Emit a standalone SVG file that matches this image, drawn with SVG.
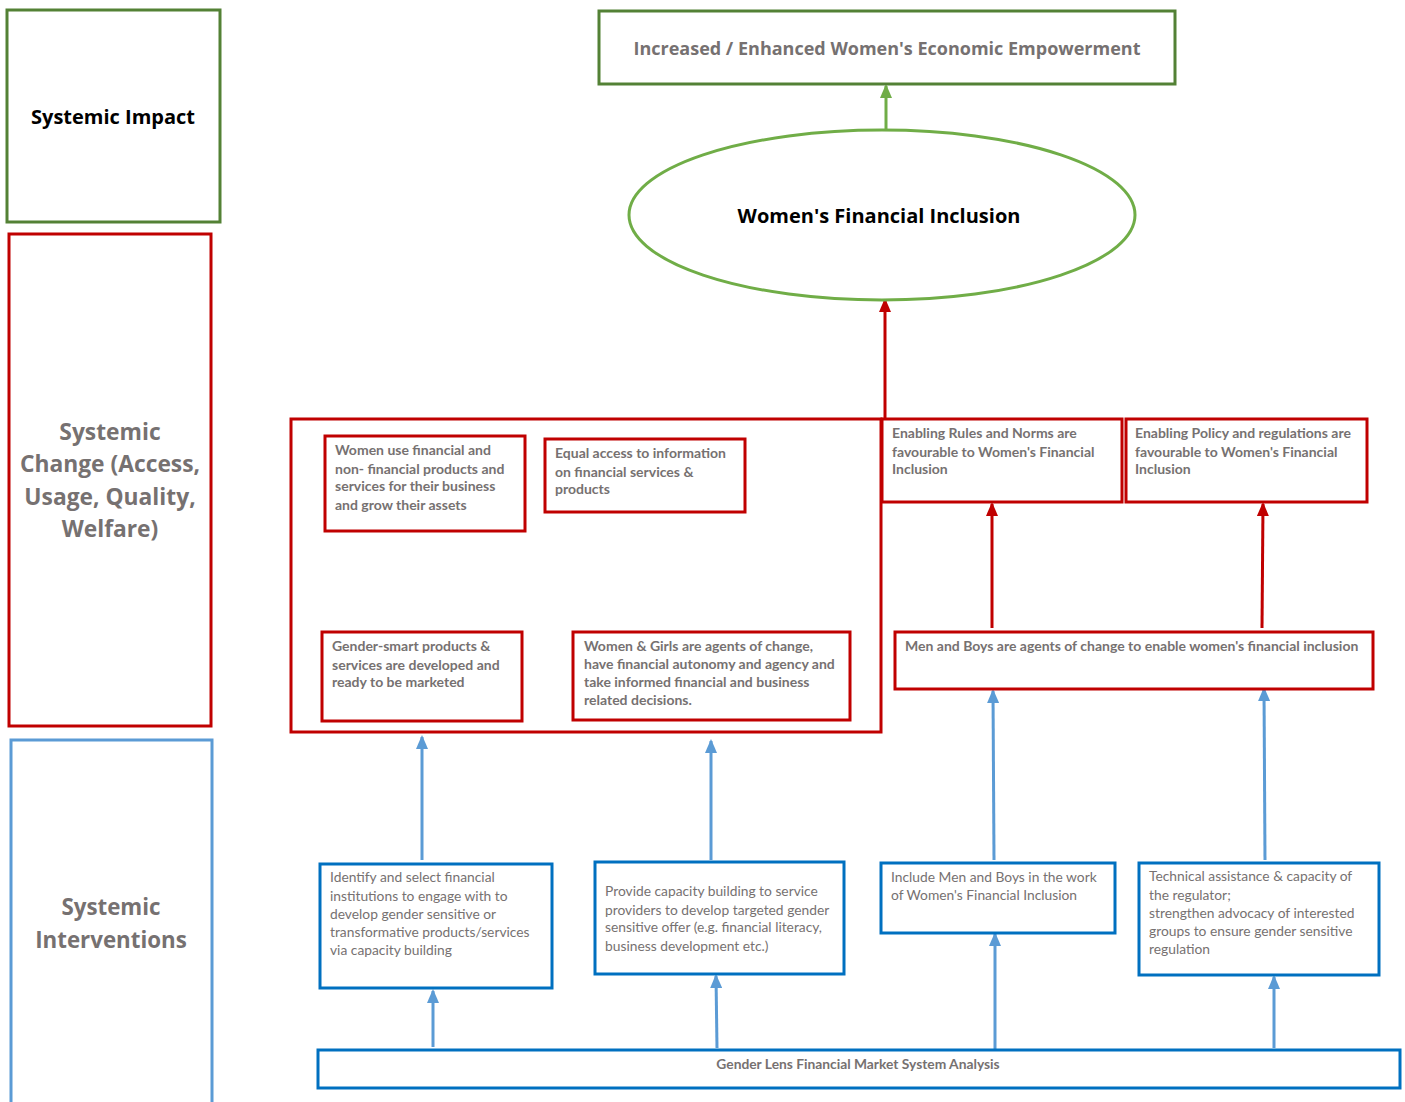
<svg xmlns="http://www.w3.org/2000/svg" width="1405" height="1102" viewBox="0 0 1405 1102">
<style>
.g{fill:#fff;stroke:#538135;stroke-width:3}
.r{fill:#fff;stroke:#C00000;stroke-width:3}
.b{fill:#fff;stroke:#0070C0;stroke-width:3}
.lb{fill:#fff;stroke:#5B9BD5;stroke-width:3}
.t{font-family:Lato,"Liberation Sans",sans-serif;fill:#767171}
.tb{font-weight:bold;font-size:14px}
.tn{font-size:13.8px}
.big{font-family:"Open Sans","Liberation Sans",sans-serif;font-weight:bold}
.ar{stroke:#C00000;stroke-width:3;fill:none}
.ab{stroke:#5B9BD5;stroke-width:3;fill:none}
.ag{stroke:#70AD47;stroke-width:3;fill:none}
</style>
<defs>
<marker id="mr" markerUnits="userSpaceOnUse" markerWidth="14" markerHeight="12" refX="12" refY="6" orient="auto" viewBox="0 0 14 12"><path d="M0,0 L14,6 L0,12 Z" fill="#C00000"/></marker>
<marker id="mb" markerUnits="userSpaceOnUse" markerWidth="14" markerHeight="12" refX="12" refY="6" orient="auto" viewBox="0 0 14 12"><path d="M0,0 L14,6 L0,12 Z" fill="#5B9BD5"/></marker>
<marker id="mg" markerUnits="userSpaceOnUse" markerWidth="14" markerHeight="12" refX="12" refY="6" orient="auto" viewBox="0 0 14 12"><path d="M0,0 L14,6 L0,12 Z" fill="#70AD47"/></marker>
</defs>

<g id="lane-impact">
<rect class="g" x="7" y="10" width="213" height="212"/>
<text class="big" x="113" y="124" font-size="20" text-anchor="middle" fill="#000">Systemic Impact</text>
</g>
<g id="lane-change">
<rect class="r" x="9" y="234" width="202" height="492"/>
<text class="big" font-size="22.8" text-anchor="middle" fill="#767171"><tspan x="110" y="440">Systemic</tspan><tspan x="110" y="472">Change (Access,</tspan><tspan x="110" y="505">Usage, Quality,</tspan><tspan x="110" y="537">Welfare)</tspan></text>
</g>
<g id="lane-interventions">
<rect class="lb" x="11" y="740" width="201" height="370"/>
<text class="big" font-size="22.3" text-anchor="middle" fill="#767171"><tspan x="111" y="915">Systemic</tspan><tspan x="111" y="948">Interventions</tspan></text>
</g>

<g id="connectors">
<line class="ag" x1="886" y1="130" x2="886" y2="86" marker-end="url(#mg)"/>
<line class="ar" x1="885" y1="418" x2="885" y2="300" marker-end="url(#mr)"/>
<line class="ar" x1="422" y1="624" x2="422" y2="533" marker-end="url(#mr)"/>
<line class="ar" x1="595" y1="630" x2="598" y2="518" marker-end="url(#mr)"/>
<line class="ar" x1="992" y1="628" x2="992" y2="504" marker-end="url(#mr)"/>
<line class="ar" x1="1262" y1="628" x2="1263" y2="504" marker-end="url(#mr)"/>
<line class="ab" x1="422" y1="860" x2="422" y2="737" marker-end="url(#mb)"/>
<line class="ab" x1="711" y1="860" x2="711" y2="741" marker-end="url(#mb)"/>
<line class="ab" x1="994" y1="860" x2="993" y2="691" marker-end="url(#mb)"/>
<line class="ab" x1="1265" y1="860" x2="1264" y2="689" marker-end="url(#mb)"/>
<line class="ab" x1="433" y1="1047" x2="433" y2="991" marker-end="url(#mb)"/>
<line class="ab" x1="717" y1="1048" x2="716" y2="976" marker-end="url(#mb)"/>
<line class="ab" x1="995" y1="1049" x2="995" y2="934" marker-end="url(#mb)"/>
<line class="ab" x1="1274" y1="1048" x2="1274" y2="977" marker-end="url(#mb)"/>
</g>

<g id="n-empowerment">
<rect class="g" x="599" y="11" width="576" height="73"/>
<text class="big" x="887" y="55" font-size="18" text-anchor="middle" fill="#767171">Increased / Enhanced Women's Economic Empowerment</text>
</g>
<g id="n-inclusion">
<ellipse cx="882" cy="215" rx="253" ry="85" fill="#fff" stroke="#70AD47" stroke-width="3"/>
<text class="big" x="879" y="223" font-size="20" text-anchor="middle" fill="#000">Women's Financial Inclusion</text>
</g>

<g id="n-container">
<rect class="r" x="291" y="419" width="590" height="313"/>
</g>
<g id="n-use">
<rect class="r" x="325" y="436" width="200" height="95"/>
<text class="t tb"><tspan x="335" y="455">Women use financial and</tspan><tspan x="335" y="474">non- financial products and</tspan><tspan x="335" y="491">services for their business</tspan><tspan x="335" y="510">and grow their assets</tspan></text>
</g>
<g id="n-access">
<rect class="r" x="545" y="439" width="200" height="73"/>
<text class="t tb"><tspan x="555" y="458">Equal access  to information</tspan><tspan x="555" y="477">on financial services &amp;</tspan><tspan x="555" y="494">products</tspan></text>
</g>
<g id="n-gender-smart">
<rect class="r" x="322" y="632" width="200" height="89"/>
<text class="t tb"><tspan x="332" y="651">Gender-smart products &amp;</tspan><tspan x="332" y="670">services are developed and</tspan><tspan x="332" y="687">ready to be marketed</tspan></text>
</g>
<g id="n-women-girls">
<rect class="r" x="573" y="632" width="277" height="88"/>
<text class="t tb"><tspan x="584" y="651">Women &amp; Girls are agents of change,</tspan><tspan x="584" y="669">have financial autonomy and agency and</tspan><tspan x="584" y="687">take informed financial and business</tspan><tspan x="584" y="705">related decisions.</tspan></text>
</g>
<g id="n-rules">
<rect class="r" x="882" y="419" width="240" height="83"/>
<text class="t tb"><tspan x="892" y="438">Enabling Rules and Norms are</tspan><tspan x="892" y="457">favourable to Women's Financial</tspan><tspan x="892" y="474">Inclusion</tspan></text>
</g>
<g id="n-policy">
<rect class="r" x="1126" y="419" width="241" height="83"/>
<text class="t tb"><tspan x="1135" y="438">Enabling Policy and regulations are</tspan><tspan x="1135" y="457">favourable to Women's Financial</tspan><tspan x="1135" y="474">Inclusion</tspan></text>
</g>
<g id="n-men-boys">
<rect class="r" x="895" y="632" width="478" height="57"/>
<text class="t tb" x="905" y="651">Men and Boys are agents of change to enable women's financial inclusion</text>
</g>

<g id="n-identify">
<rect class="b" x="320" y="864" width="232" height="124"/>
<text class="t tn"><tspan x="330" y="882">Identify and select financial</tspan><tspan x="330" y="901">institutions to engage with to</tspan><tspan x="330" y="919">develop gender sensitive or</tspan><tspan x="330" y="937">transformative products/services</tspan><tspan x="330" y="955">via capacity building</tspan></text>
</g>
<g id="n-capacity">
<rect class="b" x="595" y="862" width="249" height="112"/>
<text class="t tn"><tspan x="605" y="896">Provide capacity building to service</tspan><tspan x="605" y="915">providers to develop targeted gender</tspan><tspan x="605" y="932">sensitive offer (e.g. financial literacy,</tspan><tspan x="605" y="951">business development etc.)</tspan></text>
</g>
<g id="n-include-men">
<rect class="b" x="881" y="863" width="234" height="70"/>
<text class="t tn"><tspan x="891" y="882">Include Men and Boys in the work</tspan><tspan x="891" y="900">of Women's Financial Inclusion</tspan></text>
</g>
<g id="n-technical">
<rect class="b" x="1139" y="863" width="240" height="112"/>
<text class="t tn"><tspan x="1149" y="881">Technical assistance &amp; capacity of</tspan><tspan x="1149" y="900">the regulator;</tspan><tspan x="1149" y="918">strengthen advocacy of interested</tspan><tspan x="1149" y="936">groups to ensure gender sensitive</tspan><tspan x="1149" y="954">regulation</tspan></text>
</g>
<g id="n-analysis">
<rect class="b" x="318" y="1050" width="1082" height="38"/>
<text class="t" x="858" y="1069" font-size="13.8" font-weight="bold" text-anchor="middle">Gender Lens Financial Market System Analysis</text>
</g>
</svg>
